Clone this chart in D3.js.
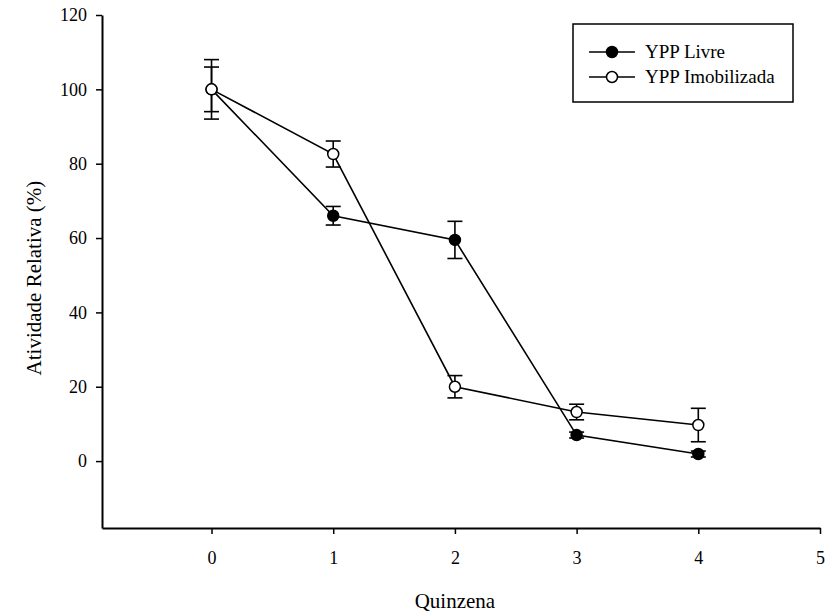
<!DOCTYPE html>
<html>
<head>
<meta charset="utf-8">
<script src="https://cdn.jsdelivr.net/npm/d3@7"></script>
<style>
  body { margin: 0; background: #fff; }
  text { font-family: "Liberation Serif", "Times New Roman", serif; fill: #000; }
</style>
</head>
<body>
<div id="chart-area"></div>
<script>
// data
const quinzena = [0, 1, 2, 3, 4];
const livre = [100, 66, 59.5, 7, 1.9];
const livreErr = [8, 2.5, 5, 0.8, 0.8];
const imob = [100, 82.6, 20, 13.2, 9.7];
const imobErr = [6, 3.5, 3, 2.1, 4.5];
const xTicks = [0, 1, 2, 3, 4, 5];
const yTicks = [0, 20, 40, 60, 80, 100, 120];
const seriesNames = ["YPP Livre", "YPP Imobilizada"];

const margin = { left: 102, right: 5, top: 15, bottom: 85 };
const width = 825 - margin.left - margin.right, height = 613 - margin.top - margin.bottom;

const svg = d3.select("#chart-area")
  .append("svg")
    .attr("width", 825)
    .attr("height", 613);

const g = svg.append("g")
  .attr("transform", "translate(" + margin.left + ", " + margin.top + ")");

const x = d3.scaleLinear()
  .domain([-0.9, 5])
  .range([0, 718]);

const y = d3.scaleLinear()
  .domain([-18, 120])
  .range([height, 0]);

// Axes
const xaxis = d3.axisBottom(x)
  .tickValues(xTicks)
  .tickSizeInner(6)
  .tickSizeOuter(0)
  .tickPadding(17)
  .tickFormat(d3.format("d"));
const xg = g.append("g")
  .attr("transform", "translate(0," + height + ")")
  .call(xaxis);

const yaxis = d3.axisLeft(y)
  .tickValues(yTicks)
  .tickSizeInner(6)
  .tickSizeOuter(0)
  .tickPadding(9)
  .tickFormat(d3.format("d"));
const yg = g.append("g").call(yaxis);

[xg, yg].forEach(a => {
  a.selectAll("path").attr("stroke", "#000").attr("stroke-width", 2);
  a.selectAll("line").attr("stroke", "#000").attr("stroke-width", 1.5);
  a.selectAll("text").attr("font-size", "18px")
    .style("font-family", "'Liberation Serif', serif").attr("fill", "#000");
});

// Labels
g.append("text")
  .attr("x", x(2))
  .attr("y", height + 80)
  .attr("font-size", "21px")
  .attr("text-anchor", "middle")
  .text("Quinzena");

g.append("text")
  .attr("transform", "rotate(-90)")
  .attr("x", -(y(60) + 40))
  .attr("y", -61)
  .attr("font-size", "21px")
  .attr("text-anchor", "middle")
  .text("Atividade Relativa (%)");

// series
const series = [
  { name: seriesNames[0], vals: livre, err: livreErr, fill: "#000" },
  { name: seriesNames[1], vals: imob, err: imobErr, fill: "#fff" }
];

const line = d3.line()
  .x((d, i) => x(quinzena[i]))
  .y(d => y(d));

series.forEach(s => {
  g.append("path")
    .datum(s.vals)
    .attr("fill", "none")
    .attr("stroke", "#000")
    .attr("stroke-width", 1.6)
    .attr("d", line);
});

series.forEach(s => {
  const eb = g.append("g").selectAll("g")
    .data(s.vals)
    .enter().append("g");
  eb.append("line")
    .attr("x1", (d, i) => x(quinzena[i]))
    .attr("x2", (d, i) => x(quinzena[i]))
    .attr("y1", (d, i) => y(d + s.err[i]))
    .attr("y2", (d, i) => y(d - s.err[i]))
    .attr("stroke", "#000").attr("stroke-width", 1.6);
  [1, -1].forEach(sign => {
    eb.append("line")
      .attr("x1", (d, i) => x(quinzena[i]) - 7.5)
      .attr("x2", (d, i) => x(quinzena[i]) + 7.5)
      .attr("y1", (d, i) => y(d + sign * s.err[i]))
      .attr("y2", (d, i) => y(d + sign * s.err[i]))
      .attr("stroke", "#000").attr("stroke-width", 1.6);
  });
});

series.forEach(s => {
  g.append("g").selectAll("circle")
    .data(s.vals)
    .enter().append("circle")
      .attr("cx", (d, i) => x(quinzena[i]))
      .attr("cy", d => y(d))
      .attr("r", 5.5)
      .attr("fill", s.fill)
      .attr("stroke", "#000")
      .attr("stroke-width", 1.5);
});

// Legend
const legend = svg.append("g");
legend.append("rect")
  .attr("x", 573).attr("y", 24)
  .attr("width", 220).attr("height", 78)
  .attr("fill", "#fff")
  .attr("stroke", "#000")
  .attr("stroke-width", 1.5);

series.forEach((s, i) => {
  const ly = 52 + i * 25;
  legend.append("line")
    .attr("x1", 589).attr("x2", 635)
    .attr("y1", ly).attr("y2", ly)
    .attr("stroke", "#000").attr("stroke-width", 1.6);
  legend.append("circle")
    .attr("cx", 612).attr("cy", ly).attr("r", 5.5)
    .attr("fill", s.fill).attr("stroke", "#000").attr("stroke-width", 1.5);
  legend.append("text")
    .attr("x", 645).attr("y", ly + 6)
    .attr("font-size", "19px")
    .text(s.name);
});
</script>
</body>
</html>
